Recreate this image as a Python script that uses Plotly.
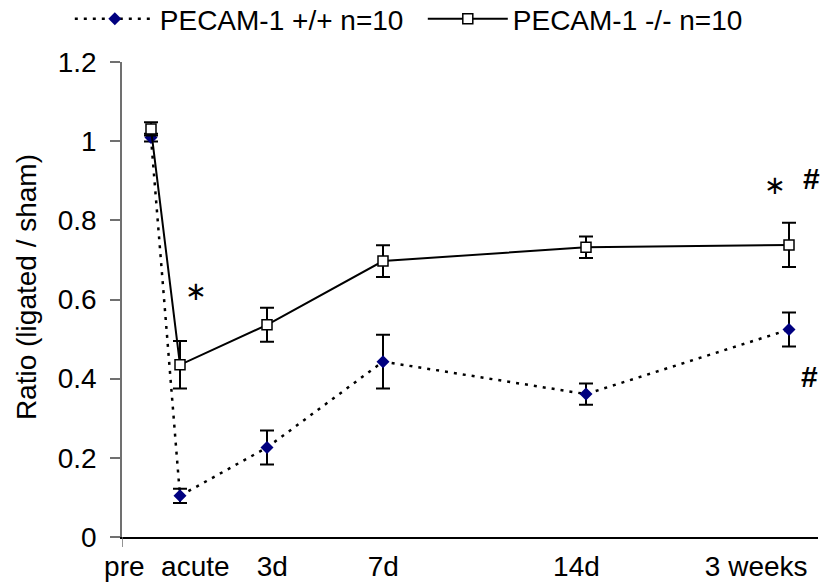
import plotly.graph_objects as go

# Data
days = [-1, 0, 3, 7, 14, 21]
wt_vals = [1.009, 0.104, 0.226, 0.443, 0.361, 0.524]
wt_err = [0.010, 0.018, 0.043, 0.068, 0.027, 0.043]
ko_vals = [1.031, 0.435, 0.536, 0.697, 0.732, 0.738]
ko_err = [0.017, 0.060, 0.043, 0.040, 0.027, 0.056]

tick_text = ["pre", "acute", "3d", "7d", "14d", "3 weeks"]
tick_pos = [-1.92, 0.53, 3.18, 7.01, 13.67, 19.87]

wt_name = "PECAM-1 +/+ n=10"
ko_name = "PECAM-1 -/- n=10"

FONT = "Liberation Sans, Arial, sans-serif"

fig = go.Figure()
fig.add_trace(go.Scatter(
    x=days, y=wt_vals, name=wt_name, mode="lines+markers",
    line=dict(color="black", width=2.5, dash="3px,6px"),
    marker=dict(symbol="diamond", size=10, color="#000080",
                line=dict(width=0)),
    error_y=dict(type="data", array=wt_err, visible=True,
                 color="black", thickness=2, width=7),
))
fig.add_trace(go.Scatter(
    x=days, y=ko_vals, name=ko_name, mode="lines+markers",
    line=dict(color="black", width=2),
    marker=dict(symbol="square", size=10, color="white",
                line=dict(color="black", width=1.5)),
    error_y=dict(type="data", array=ko_err, visible=True,
                 color="black", thickness=2, width=7),
))

annos = [
    dict(x=0.55, y=0.622, text="∗", size=26),
    dict(x=20.53, y=0.89, text="∗", size=26),
    dict(x=21.79, y=0.905, text="<b>#</b>", size=30),
    dict(x=21.72, y=0.405, text="<b>#</b>", size=30),
]
annotations = []
for a in annos:
    annotations.append(dict(x=a["x"], y=a["y"], xref="x", yref="y",
                            text=a["text"], showarrow=False,
                            font=dict(family=FONT, size=a["size"],
                                      color="black"),
                            xanchor="center", yanchor="middle"))
annotations.append(dict(x=-0.138, y=0.526, xref="paper", yref="paper",
                        text="Ratio (ligated / sham)", textangle=-90,
                        showarrow=False, xanchor="center", yanchor="middle",
                        font=dict(family=FONT, size=28, color="black")))

fig.add_shape(type="line", xref="x", yref="paper", x0=-2, x1=-2,
              y0=0, y1=-0.021, line=dict(color="#707070", width=1.5))

fig.update_layout(
    width=823, height=587,
    margin=dict(l=122, r=5, t=61.5, b=50.3, autoexpand=False),
    paper_bgcolor="white", plot_bgcolor="white",
    font=dict(family=FONT, size=28, color="black"),
    showlegend=True,
    legend=dict(orientation="h", x=-0.075, y=1.143, xanchor="left",
                yanchor="top", font=dict(size=28, family=FONT),
                itemwidth=80, entrywidth=258, entrywidthmode="pixels",
                bgcolor="rgba(0,0,0,0)", tracegroupgap=0),
    annotations=annotations,
    xaxis=dict(range=[-2, 22], tickmode="array", tickvals=tick_pos,
               ticktext=tick_text, ticks="", showgrid=False, zeroline=False,
               showline=True, linecolor="black", linewidth=1.5,
               ticklabelstandoff=4, automargin=False,
               tickfont=dict(size=28, family=FONT)),
    yaxis=dict(range=[0, 1.2], dtick=0.2, tick0=0, ticks="outside",
               ticklen=10, tickcolor="#707070", tickwidth=1.5,
               showgrid=False, zeroline=False, showline=True,
               linecolor="#707070", linewidth=1.5,
               ticklabelstandoff=8, automargin=False,
               tickfont=dict(size=28, family=FONT)),
)

fig.write_html("out.html",
               config={"displayModeBar": False},
               post_script="document.body.style.margin='0';"
                           "document.body.style.overflow='hidden';")
